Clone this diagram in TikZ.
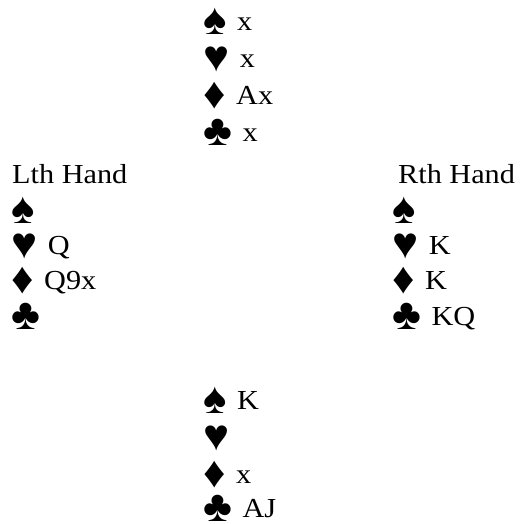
\documentclass[tikz,border=0pt]{standalone}
\usepackage{fontspec}
\setmainfont[FakeStretch=1.1]{Liberation Serif}
\newfontfamily\suitfont{Liberation Serif}
\usetikzlibrary{positioning}

\newcommand{\suitsym}[1]{\raisebox{-4pt}{\smash{\suitfont\fontsize{44}{44}\selectfont\char"#1}}\hspace{3pt}}
\newcommand{\spd}{\suitsym{2660}}
\newcommand{\hrt}{\suitsym{2665}}
\newcommand{\dmd}{\suitsym{2666}}
\newcommand{\clb}{\suitsym{2663}}

\begin{document}
\begin{tikzpicture}[x=1pt, y=-1pt,
    cardline/.style={anchor=base west, inner sep=0pt, font=\fontsize{27.5}{32}\selectfont}
]
    \useasboundingbox (0,0) rectangle (522,524);

    % top hand
    \node[cardline] (ts) at (203,31) {\spd\ x};
    \node[cardline] (th) at (203,68) {\hrt\ x};
    \node[cardline] (td) at (203,105) {\dmd\ Ax};
    \node[cardline] (tc) at (203,141) {\clb\ x};

    % left hand
    \node[cardline] (lt) at (12,183) {Lth Hand};
    \node[cardline] (ls) at (11,219) {\spd};
    \node[cardline] (lh) at (11,254) {\hrt\ Q};
    \node[cardline] (ld) at (11,289) {\dmd\ Q9x};
    \node[cardline] (lc) at (11,325) {\clb};

    % right hand
    \node[cardline] (rt) at (398,183) {Rth Hand};
    \node[cardline] (rs) at (392,219) {\spd};
    \node[cardline] (rh) at (392,254) {\hrt\ K};
    \node[cardline] (rd) at (392,289) {\dmd\ K};
    \node[cardline] (rc) at (392,325) {\clb\ KQ};

    % bottom hand
    \node[cardline] (bs) at (203,409) {\spd\ K};
    \node[cardline] (bh) at (203,446) {\hrt};
    \node[cardline] (bd) at (203,483) {\dmd\ x};
    \node[cardline] (bc) at (203,517) {\clb\ AJ};
\end{tikzpicture}
\end{document}
